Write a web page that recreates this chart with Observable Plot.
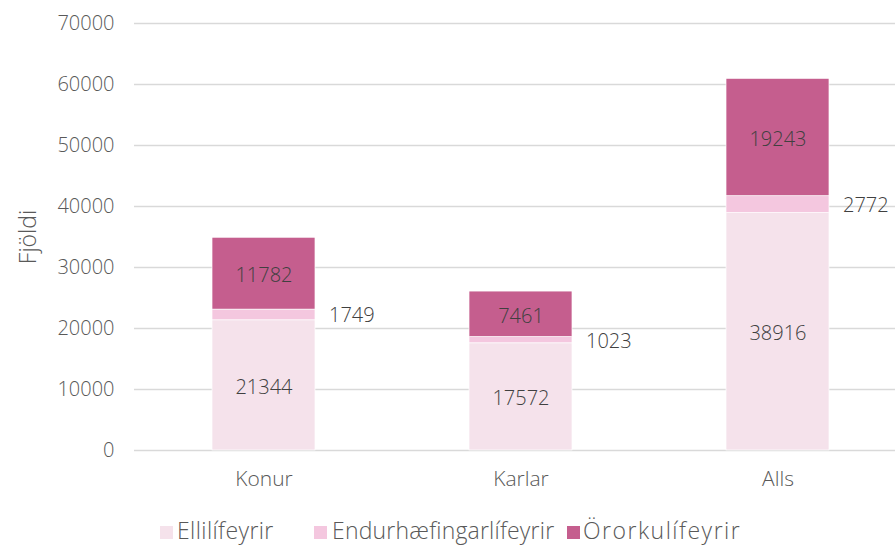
<!DOCTYPE html>
<html><head><meta charset="utf-8">
<script src="https://cdn.jsdelivr.net/npm/d3@7"></script>
<script src="https://cdn.jsdelivr.net/npm/@observablehq/plot@0.6"></script>
<style>
html,body{margin:0;padding:0;background:#fff;overflow:hidden;width:895px;height:545px}
#chart{position:absolute;left:0;top:0}
#chart svg{max-width:none !important}
.legend{position:absolute;top:514px;left:0;font-family:"Open Sans",Lato,sans-serif;font-weight:300;font-size:23px;color:#595959}
.legend span.sw{position:absolute;top:12px;width:13px;height:13px}
.legend span.lb{position:absolute;top:0;white-space:nowrap}
</style></head>
<body><div id="chart"></div><div class="legend" id="legend"></div>
<script>
const categories = ["Konur", "Karlar", "Alls"];
const seriesNames = ["Ellilífeyrir", "Endurhæfingarlífeyrir", "Örorkulífeyrir"];
const ellilifeyrir = [21344, 17572, 38916];
const endurhaefing = [1749, 1023, 2772];
const ororka = [11782, 7461, 19243];
const colors = ["#f5e2eb", "#f4c7df", "#c55e8e"];
const yTicks = [0, 10000, 20000, 30000, 40000, 50000, 60000, 70000];

const seriesValues = [ellilifeyrir, endurhaefing, ororka];
const data = [];
categories.forEach((c, i) => seriesNames.forEach((s, j) => data.push({cat: c, series: s, value: seriesValues[j][i], idx: j})));

const font = '"Open Sans", Lato, sans-serif';
const stackOpts = {x: "cat", y: "value", z: "series", order: seriesNames};

const plot = Plot.plot({
  width: 906, height: 495,
  marginLeft: 134, marginRight: 0, marginTop: 23, marginBottom: 45,
  style: {fontFamily: font, fontSize: "20px", fontWeight: 300, color: "#595959", background: "white", maxWidth: "none"},
  x: {domain: categories, paddingInner: 0.6, paddingOuter: 0.3, align: 0.5, label: null},
  y: {domain: [0, 70000], label: "Fjöldi"},
  color: {domain: seriesNames, range: colors},
  marks: [
    Plot.gridY(yTicks, {stroke: "#d9d9d9", strokeOpacity: 1, strokeWidth: 1.5}),
    Plot.axisY({ticks: yTicks, tickSize: 0, tickPadding: 20, tickFormat: d => String(d), label: null, fontSize: 20, fill: "#595959"}),
    Plot.axisY({ticks: [], tickSize: 0, label: "Fjöldi", labelAnchor: "center", labelArrow: "none", labelOffset: 115, fontSize: 23, fill: "#595959"}),
    Plot.axisX({tickSize: 0, tickPadding: 21, label: null, fontSize: 21, fill: "#595959"}),
    Plot.barY(data, Plot.stackY({...stackOpts, fill: "series", stroke: "white", strokeWidth: 0.7})),
    Plot.text(data, Plot.stackY({...stackOpts, text: d => d.idx !== 1 ? String(d.value) : null, fill: "#404040", fontSize: 20, fontWeight: 300, dy: 2})),
    Plot.text(data, Plot.stackY({...stackOpts, text: d => d.idx === 1 ? String(d.value) : null, fill: "#404040", fontSize: 20, fontWeight: 300, textAnchor: "start", dx: 65, dy: 1}))
  ]
});
document.getElementById("chart").appendChild(plot);

const legendItems = [{sw: 160, lb: 177, ls: 0.4}, {sw: 314, lb: 332, ls: 0.2}, {sw: 567, lb: 583, ls: 1.5}];
const lg = document.getElementById("legend");
seriesNames.forEach((s, i) => {
  const sw = document.createElement("span"); sw.className = "sw"; sw.style.left = legendItems[i].sw + "px"; sw.style.background = colors[i];
  const lb = document.createElement("span"); lb.className = "lb"; lb.style.left = legendItems[i].lb + "px"; lb.style.letterSpacing = legendItems[i].ls + "px"; lb.textContent = s;
  lg.appendChild(sw); lg.appendChild(lb);
});
</script></body></html>
